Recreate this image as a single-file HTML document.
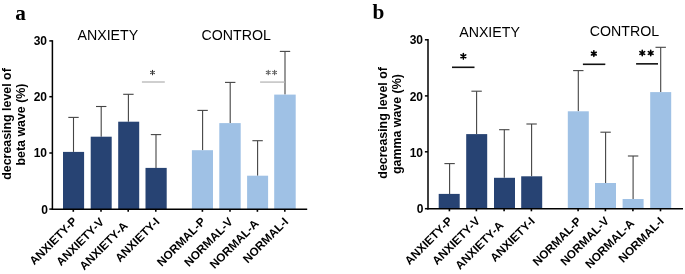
<!DOCTYPE html>
<html><head><meta charset="utf-8"><style>
html,body{margin:0;padding:0;background:#fff;}
body{width:685px;height:274px;overflow:hidden;}
svg{display:block;will-change:transform;}
text{font-family:"Liberation Sans",sans-serif;}
.tk{font-size:12px;font-weight:bold;fill:#000;}
.xl{font-size:11.7px;font-weight:bold;fill:#000;}
.yl{font-size:12.4px;font-weight:bold;fill:#000;}
.ti{font-size:14.2px;fill:#000;}
.lt{font-family:"Liberation Serif",serif;font-size:21.3px;font-weight:bold;fill:#000;}
.sa{font-size:11px;fill:#333;}
.sb{font-size:18px;font-weight:bold;fill:#000;}
</style></head><body>
<svg width="685" height="274" viewBox="0 0 685 274">
<rect width="685" height="274" fill="#fff"/>
<line x1="73.50" y1="151.90" x2="73.50" y2="117.40" stroke="#444444" stroke-width="1.1"/>
<line x1="68.30" y1="117.40" x2="78.70" y2="117.40" stroke="#444444" stroke-width="1.1"/>
<rect x="63.00" y="151.90" width="21.10" height="57.30" fill="#274373"/>
<line x1="73.30" y1="209.20" x2="73.30" y2="211.80" stroke="#000" stroke-width="1.6"/>
<line x1="101.20" y1="136.70" x2="101.20" y2="106.50" stroke="#444444" stroke-width="1.1"/>
<line x1="96.00" y1="106.50" x2="106.40" y2="106.50" stroke="#444444" stroke-width="1.1"/>
<rect x="90.70" y="136.70" width="21.00" height="72.50" fill="#274373"/>
<line x1="101.00" y1="209.20" x2="101.00" y2="211.80" stroke="#000" stroke-width="1.6"/>
<line x1="128.40" y1="121.70" x2="128.40" y2="94.30" stroke="#444444" stroke-width="1.1"/>
<line x1="123.20" y1="94.30" x2="133.60" y2="94.30" stroke="#444444" stroke-width="1.1"/>
<rect x="118.20" y="121.70" width="21.00" height="87.50" fill="#274373"/>
<line x1="128.20" y1="209.20" x2="128.20" y2="211.80" stroke="#000" stroke-width="1.6"/>
<line x1="156.00" y1="167.90" x2="156.00" y2="134.60" stroke="#444444" stroke-width="1.1"/>
<line x1="150.80" y1="134.60" x2="161.20" y2="134.60" stroke="#444444" stroke-width="1.1"/>
<rect x="145.50" y="167.90" width="21.20" height="41.30" fill="#274373"/>
<line x1="155.80" y1="209.20" x2="155.80" y2="211.80" stroke="#000" stroke-width="1.6"/>
<line x1="202.60" y1="150.20" x2="202.60" y2="110.40" stroke="#444444" stroke-width="1.1"/>
<line x1="197.40" y1="110.40" x2="207.80" y2="110.40" stroke="#444444" stroke-width="1.1"/>
<rect x="191.90" y="150.20" width="21.10" height="59.00" fill="#9fc1e5"/>
<line x1="202.40" y1="209.20" x2="202.40" y2="211.80" stroke="#000" stroke-width="1.6"/>
<line x1="230.20" y1="123.10" x2="230.20" y2="82.40" stroke="#444444" stroke-width="1.1"/>
<line x1="225.00" y1="82.40" x2="235.40" y2="82.40" stroke="#444444" stroke-width="1.1"/>
<rect x="219.30" y="123.10" width="21.40" height="86.10" fill="#9fc1e5"/>
<line x1="230.00" y1="209.20" x2="230.00" y2="211.80" stroke="#000" stroke-width="1.6"/>
<line x1="257.60" y1="175.70" x2="257.60" y2="140.70" stroke="#444444" stroke-width="1.1"/>
<line x1="252.40" y1="140.70" x2="262.80" y2="140.70" stroke="#444444" stroke-width="1.1"/>
<rect x="247.10" y="175.70" width="21.00" height="33.50" fill="#9fc1e5"/>
<line x1="257.40" y1="209.20" x2="257.40" y2="211.80" stroke="#000" stroke-width="1.6"/>
<line x1="285.00" y1="94.60" x2="285.00" y2="51.40" stroke="#444444" stroke-width="1.1"/>
<line x1="279.80" y1="51.40" x2="290.20" y2="51.40" stroke="#444444" stroke-width="1.1"/>
<rect x="274.20" y="94.60" width="21.50" height="114.60" fill="#9fc1e5"/>
<line x1="284.80" y1="209.20" x2="284.80" y2="211.80" stroke="#000" stroke-width="1.6"/>
<line x1="52.40" y1="40.20" x2="52.40" y2="209.90" stroke="#000" stroke-width="1.5"/>
<line x1="51.70" y1="209.20" x2="307.20" y2="209.20" stroke="#000" stroke-width="1.5"/>
<line x1="49.30" y1="40.90" x2="52.40" y2="40.90" stroke="#000" stroke-width="1.5"/>
<text x="47.00" y="44.80" text-anchor="end" class="tk">30</text>
<line x1="49.30" y1="96.70" x2="52.40" y2="96.70" stroke="#000" stroke-width="1.5"/>
<text x="47.00" y="101.00" text-anchor="end" class="tk">20</text>
<line x1="49.30" y1="153.00" x2="52.40" y2="153.00" stroke="#000" stroke-width="1.5"/>
<text x="47.00" y="157.30" text-anchor="end" class="tk">10</text>
<line x1="49.30" y1="209.10" x2="52.40" y2="209.10" stroke="#000" stroke-width="1.5"/>
<text x="48.00" y="214.10" text-anchor="end" class="tk">0</text>
<text transform="translate(77.83,221.97) rotate(-45)" text-anchor="end" class="xl">ANXIETY-P</text>
<text transform="translate(104.69,222.81) rotate(-45)" text-anchor="end" class="xl">ANXIETY-V</text>
<text transform="translate(128.37,226.63) rotate(-45)" text-anchor="end" class="xl">ANXIETY-A</text>
<text transform="translate(160.31,222.39) rotate(-45)" text-anchor="end" class="xl">ANXIETY-I</text>
<text transform="translate(206.35,222.35) rotate(-45)" text-anchor="end" class="xl">NORMAL-P</text>
<text transform="translate(233.50,222.60) rotate(-45)" text-anchor="end" class="xl">NORMAL-V</text>
<text transform="translate(259.53,224.37) rotate(-45)" text-anchor="end" class="xl">NORMAL-A</text>
<text transform="translate(289.01,222.39) rotate(-45)" text-anchor="end" class="xl">NORMAL-I</text>
<text transform="translate(11.20,124.00) rotate(-90)" text-anchor="middle" class="yl">decreasing level of</text>
<text transform="translate(25.40,124.50) rotate(-90)" text-anchor="middle" class="yl">beta wave (%)</text>
<text x="77.50" y="39.60" class="ti">ANXIETY</text>
<text x="201.50" y="39.60" class="ti">CONTROL</text>
<text x="15.30" y="19.60" class="lt">a</text>
<line x1="141.90" y1="82.00" x2="164.80" y2="82.00" stroke="#c4c4c4" stroke-width="1.6"/>
<line x1="260.10" y1="82.10" x2="284.50" y2="82.10" stroke="#c4c4c4" stroke-width="1.6"/>
<path d="M152.50,70.25L152.50,74.75M150.55,71.38L154.45,73.62M154.45,71.38L150.55,73.62" stroke="#333" stroke-width="1.05" stroke-linecap="round" fill="none"/>
<path d="M268.25,70.25L268.25,74.75M266.30,71.38L270.20,73.62M270.20,71.38L266.30,73.62" stroke="#555" stroke-width="1.05" stroke-linecap="round" fill="none"/>
<path d="M274.60,70.25L274.60,74.75M272.65,71.38L276.55,73.62M276.55,71.38L272.65,73.62" stroke="#555" stroke-width="1.05" stroke-linecap="round" fill="none"/>
<line x1="449.60" y1="193.90" x2="449.60" y2="163.60" stroke="#444444" stroke-width="1.1"/>
<line x1="444.40" y1="163.60" x2="454.80" y2="163.60" stroke="#444444" stroke-width="1.1"/>
<rect x="438.70" y="193.90" width="21.00" height="14.80" fill="#274373"/>
<line x1="449.40" y1="208.70" x2="449.40" y2="211.30" stroke="#000" stroke-width="1.6"/>
<line x1="476.60" y1="134.10" x2="476.60" y2="91.20" stroke="#444444" stroke-width="1.1"/>
<line x1="471.40" y1="91.20" x2="481.80" y2="91.20" stroke="#444444" stroke-width="1.1"/>
<rect x="466.20" y="134.10" width="21.00" height="74.60" fill="#274373"/>
<line x1="476.40" y1="208.70" x2="476.40" y2="211.30" stroke="#000" stroke-width="1.6"/>
<line x1="504.30" y1="177.80" x2="504.30" y2="129.70" stroke="#444444" stroke-width="1.1"/>
<line x1="499.10" y1="129.70" x2="509.50" y2="129.70" stroke="#444444" stroke-width="1.1"/>
<rect x="494.00" y="177.80" width="21.00" height="30.90" fill="#274373"/>
<line x1="504.10" y1="208.70" x2="504.10" y2="211.30" stroke="#000" stroke-width="1.6"/>
<line x1="531.60" y1="176.30" x2="531.60" y2="124.00" stroke="#444444" stroke-width="1.1"/>
<line x1="526.40" y1="124.00" x2="536.80" y2="124.00" stroke="#444444" stroke-width="1.1"/>
<rect x="521.20" y="176.30" width="21.00" height="32.40" fill="#274373"/>
<line x1="531.40" y1="208.70" x2="531.40" y2="211.30" stroke="#000" stroke-width="1.6"/>
<line x1="578.30" y1="111.30" x2="578.30" y2="70.60" stroke="#444444" stroke-width="1.1"/>
<line x1="573.10" y1="70.60" x2="583.50" y2="70.60" stroke="#444444" stroke-width="1.1"/>
<rect x="567.80" y="111.30" width="21.00" height="97.40" fill="#9fc1e5"/>
<line x1="578.10" y1="208.70" x2="578.10" y2="211.30" stroke="#000" stroke-width="1.6"/>
<line x1="605.60" y1="183.00" x2="605.60" y2="132.20" stroke="#444444" stroke-width="1.1"/>
<line x1="600.40" y1="132.20" x2="610.80" y2="132.20" stroke="#444444" stroke-width="1.1"/>
<rect x="595.00" y="183.00" width="21.00" height="25.70" fill="#9fc1e5"/>
<line x1="605.40" y1="208.70" x2="605.40" y2="211.30" stroke="#000" stroke-width="1.6"/>
<line x1="633.10" y1="199.00" x2="633.10" y2="156.00" stroke="#444444" stroke-width="1.1"/>
<line x1="627.90" y1="156.00" x2="638.30" y2="156.00" stroke="#444444" stroke-width="1.1"/>
<rect x="622.60" y="199.00" width="21.00" height="9.70" fill="#9fc1e5"/>
<line x1="632.90" y1="208.70" x2="632.90" y2="211.30" stroke="#000" stroke-width="1.6"/>
<line x1="660.70" y1="92.10" x2="660.70" y2="47.30" stroke="#444444" stroke-width="1.1"/>
<line x1="655.50" y1="47.30" x2="665.90" y2="47.30" stroke="#444444" stroke-width="1.1"/>
<rect x="650.20" y="92.10" width="21.00" height="116.60" fill="#9fc1e5"/>
<line x1="660.50" y1="208.70" x2="660.50" y2="211.30" stroke="#000" stroke-width="1.6"/>
<line x1="428.00" y1="39.10" x2="428.00" y2="209.40" stroke="#000" stroke-width="1.5"/>
<line x1="427.30" y1="208.70" x2="683.00" y2="208.70" stroke="#000" stroke-width="1.5"/>
<line x1="424.90" y1="39.80" x2="428.00" y2="39.80" stroke="#000" stroke-width="1.5"/>
<text x="423.00" y="44.10" text-anchor="end" class="tk">30</text>
<line x1="424.90" y1="95.90" x2="428.00" y2="95.90" stroke="#000" stroke-width="1.5"/>
<text x="423.00" y="100.60" text-anchor="end" class="tk">20</text>
<line x1="424.90" y1="151.80" x2="428.00" y2="151.80" stroke="#000" stroke-width="1.5"/>
<text x="423.00" y="156.60" text-anchor="end" class="tk">10</text>
<line x1="424.90" y1="208.70" x2="428.00" y2="208.70" stroke="#000" stroke-width="1.5"/>
<text x="423.50" y="213.40" text-anchor="end" class="tk">0</text>
<text transform="translate(453.15,221.85) rotate(-45)" text-anchor="end" class="xl">ANXIETY-P</text>
<text transform="translate(480.65,221.85) rotate(-45)" text-anchor="end" class="xl">ANXIETY-V</text>
<text transform="translate(504.20,226.10) rotate(-45)" text-anchor="end" class="xl">ANXIETY-A</text>
<text transform="translate(535.50,222.00) rotate(-45)" text-anchor="end" class="xl">ANXIETY-I</text>
<text transform="translate(582.10,222.00) rotate(-45)" text-anchor="end" class="xl">NORMAL-P</text>
<text transform="translate(609.69,221.61) rotate(-45)" text-anchor="end" class="xl">NORMAL-V</text>
<text transform="translate(634.96,223.94) rotate(-45)" text-anchor="end" class="xl">NORMAL-A</text>
<text transform="translate(664.50,222.00) rotate(-45)" text-anchor="end" class="xl">NORMAL-I</text>
<text transform="translate(387.00,122.90) rotate(-90)" text-anchor="middle" class="yl">decreasing level of</text>
<text transform="translate(401.00,124.10) rotate(-90)" text-anchor="middle" class="yl">gamma wave (%)</text>
<text x="459.20" y="36.80" class="ti">ANXIETY</text>
<text x="589.80" y="36.40" class="ti">CONTROL</text>
<text x="372.50" y="19.40" class="lt">b</text>
<line x1="452.00" y1="67.30" x2="474.50" y2="67.30" stroke="#111" stroke-width="1.6"/>
<line x1="582.90" y1="64.30" x2="605.30" y2="64.30" stroke="#111" stroke-width="1.6"/>
<line x1="636.10" y1="63.85" x2="658.00" y2="63.85" stroke="#111" stroke-width="1.6"/>
<path d="M463.35,53.50L463.35,59.10M460.93,54.90L465.77,57.70M465.77,54.90L460.93,57.70" stroke="#000" stroke-width="1.6" stroke-linecap="round" fill="none"/>
<path d="M593.85,50.85L593.85,56.35M591.47,52.23L596.23,54.98M596.23,52.23L591.47,54.98" stroke="#000" stroke-width="1.6" stroke-linecap="round" fill="none"/>
<path d="M642.25,50.25L642.25,55.75M639.87,51.62L644.63,54.38M644.63,51.62L639.87,54.38" stroke="#000" stroke-width="1.6" stroke-linecap="round" fill="none"/>
<path d="M650.70,50.25L650.70,55.75M648.32,51.62L653.08,54.38M653.08,51.62L648.32,54.38" stroke="#000" stroke-width="1.6" stroke-linecap="round" fill="none"/>
</svg>
</body></html>
